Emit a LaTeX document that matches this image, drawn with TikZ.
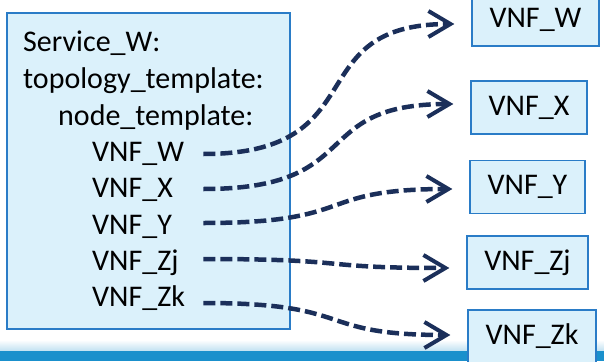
\documentclass[tikz,border=0pt]{standalone}
\usepackage{fontspec}
\setmainfont{Carlito}
\usetikzlibrary{arrows.meta}

\definecolor{boxfill}{HTML}{DBF1FB}
\definecolor{boxline}{HTML}{2A7CC7}
\definecolor{navy}{HTML}{1B2F5A}
\definecolor{barblue}{HTML}{1A90CC}

\tikzset{
  vnfbox/.style={draw=boxline, fill=boxfill, line width=1.3pt, inner sep=0pt,
    minimum height=53pt, font=\fontsize{30}{36}\selectfont},
  line/.style={anchor=base west, inner sep=0pt, font=\fontsize{30}{36}\selectfont},
  entry/.style={line, text width=111pt, align=left},
  link/.style={draw=navy, line width=4.5pt, dash pattern=on 12pt off 5pt, looseness=1.5,
    -{Straight Barb[length=22pt,width=26pt,line width=4pt]}, shorten >=17pt}
}

\begin{document}
\begin{tikzpicture}[x=1pt,y=-1pt]
  \useasboundingbox (0,0) rectangle (604,361);
  %%%%%%%%%%%%% bar at the bottom %%%%%%%%%%%%%%%%%%%%%%
  \shade[top color=white, bottom color=barblue!25] (0,340) rectangle (604,350);
  \fill[barblue] (0,350.5) rectangle (604,361);

  %%%%%%%%%%%%% the service template %%%%%%%%%%%%%%%%%%%%%%
  \draw[boxline, fill=boxfill, line width=1.3pt] (7,13) rectangle (290,329);
  \node[line] (svc) at (23,52) {Service\_W:};
  \node[line] (topo) at (23,88.5) {topology\_template:};
  \node[line] (ntpl) at (58,125) {node\_template:};
  \node[entry] (tW) at (92,161.5) {VNF\_W};
  \node[entry] (tX) at (92,197.5) {VNF\_X};
  \node[entry] (tY) at (92,234) {VNF\_Y};
  \node[entry] (tZj) at (92,270) {VNF\_Zj};
  \node[entry] (tZk) at (92,306) {VNF\_Zk};

  %%%%%%%%%%%%% the VNF boxes %%%%%%%%%%%%%%%%%%%%%%
  \node[vnfbox, minimum width=127pt, minimum height=52pt] (bW) at (535.5,20) {VNF\_W};
  \node[vnfbox, minimum width=116pt] (bX) at (529,107.5) {VNF\_X};
  \node[vnfbox, minimum width=115pt] (bY) at (527.5,187) {VNF\_Y};
  \node[vnfbox, minimum width=121pt] (bZj) at (527.5,262.5) {VNF\_Zj};
  \node[vnfbox, minimum width=128pt] (bZk) at (532,336.5) {VNF\_Zk};

  \draw[link] ([yshift=7.5pt]tW.base east) to[out=0,in=180] ([yshift=-4pt]bW.west);
  \draw[link] ([yshift=8.5pt]tX.base east) to[out=0,in=180] ([yshift=3.5pt]bX.west);
  \draw[link] ([yshift=11pt]tY.base east) to[out=0,in=180] ([yshift=-2pt]bY.west);
  \draw[link] ([yshift=11pt]tZj.base east) to[out=0,in=180] ([yshift=-5.5pt]bZj.west);
  \draw[link] ([yshift=3pt]tZk.base east) to[out=0,in=180] ([yshift=1.5pt]bZk.west);
\end{tikzpicture}
\end{document}
